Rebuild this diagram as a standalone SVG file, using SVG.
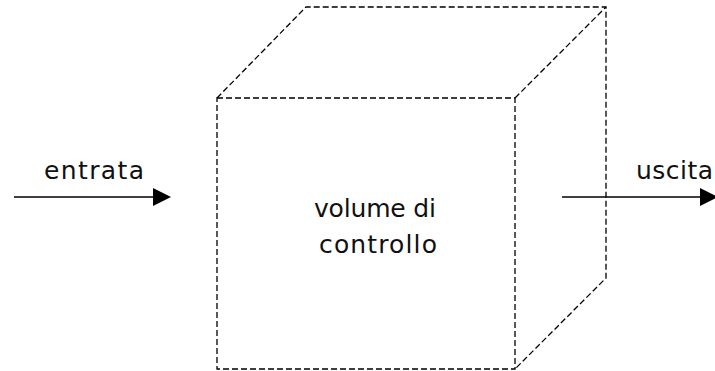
<svg xmlns="http://www.w3.org/2000/svg" width="715" height="371" viewBox="0 0 715 371">
<style>
.edge{fill:none;stroke:#000;stroke-width:1.3;stroke-dasharray:6 3}
.arrow{fill:none;stroke:#000;stroke-width:1.3}
.head{fill:#000;stroke:none}
text{font-family:"DejaVu Sans","Liberation Sans",sans-serif;font-size:25px;fill:#111}
</style>
<rect width="715" height="371" fill="#fff"/>
<g id="control-volume">
<polyline class="edge" points="217,98 306,7 606,7 606,278 515,369"/>
<line class="edge" x1="515" y1="98" x2="606" y2="7"/>
<rect class="edge" x="217" y="98" width="298" height="271"/>
<text x="314" y="217" textLength="122" lengthAdjust="spacing">volume di</text>
<text x="319" y="253" textLength="118" lengthAdjust="spacing">controllo</text>
</g>
<g id="connectors">
<g id="inflow">
<line class="arrow" x1="14" y1="197" x2="155" y2="197"/>
<polygon class="head" points="153,188 171,197 153,206"/>
<text x="44" y="179" textLength="100" lengthAdjust="spacing">entrata</text>
</g>
<g id="outflow">
<line class="arrow" x1="562" y1="197" x2="702" y2="197"/>
<polygon class="head" points="700,188 718,197 700,206"/>
<text x="636" y="179" textLength="77" lengthAdjust="spacing">uscita</text>
</g>
</g>
</svg>
